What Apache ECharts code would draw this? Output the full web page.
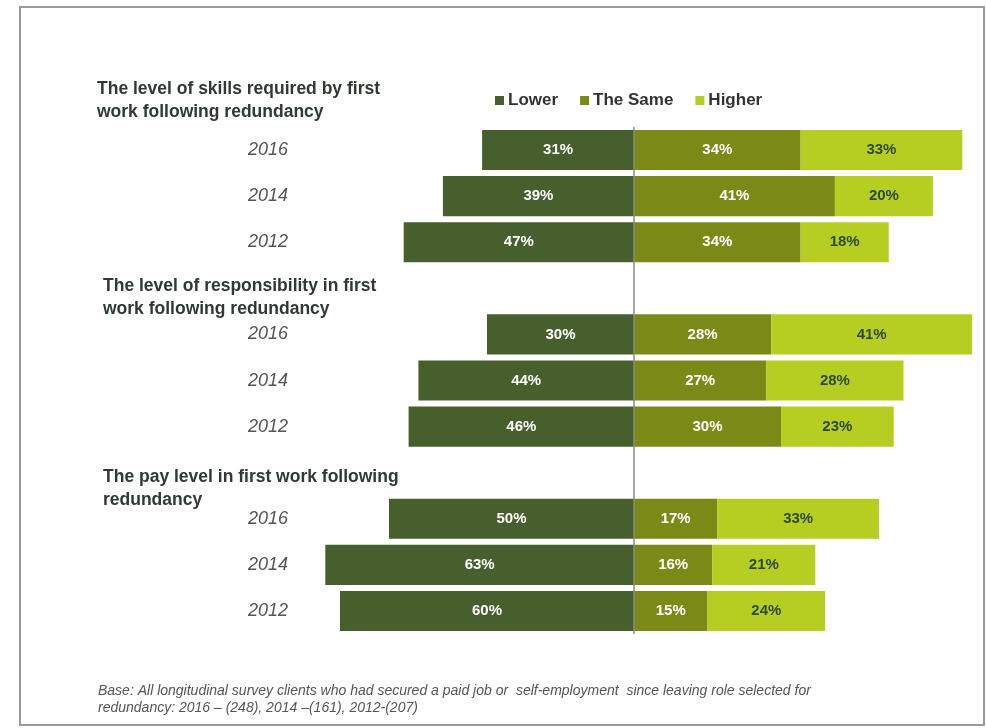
<!DOCTYPE html>
<html>
<head>
<meta charset="utf-8">
<script src="https://cdn.jsdelivr.net/npm/echarts@6/dist/echarts.min.js"></script>
<style>
  html, body { margin: 0; padding: 0; background: #ffffff; }
  #chart { width: 986px; height: 728px; }
</style>
</head>
<body>
<div id="chart"></div>
<script>
// Rows top to bottom; empty strings are spacer rows that carry the section headings.
const rowLabels = ['2016', '2014', '2012', '', '2016', '2014', '2012', '', '2016', '2014', '2012'];
const lowerPct  = [31, 39, 47, null, 30, 44, 46, null, 50, 63, 60];
const samePct   = [34, 41, 34, null, 28, 27, 30, null, 17, 16, 15];
const higherPct = [33, 20, 18, null, 41, 28, 23, null, 33, 21, 24];

const seriesNames = ['Lower', 'The Same', 'Higher'];
const sectionTitles = [
  ['The level of skills required by first', 'work following redundancy'],
  ['The level of responsibility in first', 'work following redundancy'],
  ['The pay level in first work following', 'redundancy']
];
const baseNote = [
  'Base: All longitudinal survey clients who had secured a paid job or  self-employment  since leaving role selected for',
  'redundancy: 2016 \u2013 (248), 2014 \u2013(161), 2012-(207)'
];

const FONT = '"Liberation Sans", Arial, sans-serif';
const colors = ['#475f2c', '#7b8a17', '#b6ce22'];

const chart = echarts.init(document.getElementById('chart'));

const barLabel = (color) => ({
  show: true,
  position: 'inside',
  color: color,
  fontFamily: FONT,
  fontWeight: 'bold',
  fontSize: 15
});

const headingPos = [[97, 78], [103, 275], [103, 466]];
const graphics = [
  {
    type: 'rect', left: 19, top: 6, z: -1,
    shape: { width: 964, height: 718 },
    style: { fill: '#ffffff', stroke: '#9a9a9a', lineWidth: 2 }
  }
];
sectionTitles.forEach((lines, i) => {
  graphics.push({
    type: 'text', left: headingPos[i][0], top: headingPos[i][1],
    style: {
      text: lines.join('\n'), fill: '#2f3a33', font: 'bold 17.5px ' + FONT, lineHeight: 23
    }
  });
});
graphics.push({
  type: 'text', left: 98, top: 683,
  style: { text: baseNote.join('\n'), fill: '#555555', font: 'italic 14px ' + FONT, lineHeight: 17 }
});

chart.setOption({
  backgroundColor: '#ffffff',
  animation: false,
  color: colors,
  graphic: graphics,
  legend: {
    data: seriesNames,
    left: 490, top: 87,
    itemWidth: 9, itemHeight: 9, itemGap: 22,
    icon: 'rect',
    textStyle: { fontFamily: FONT, fontWeight: 'bold', fontSize: 17, color: '#333333', padding: [0, 0, 0, -1] }
  },
  grid: { left: 291, width: 686, top: 127, height: 507 },
  xAxis: {
    type: 'value', min: -70, max: 70, show: false
  },
  yAxis: {
    type: 'category', data: rowLabels, inverse: true,
    axisLine: { show: false }, axisTick: { show: false },
    axisLabel: {
      align: 'center', margin: 23,
      fontFamily: FONT, fontStyle: 'italic', fontSize: 18, color: '#555555'
    }
  },
  series: [
    {
      name: seriesNames[0], type: 'bar', stack: 'all', barCategoryGap: '13%',
      data: lowerPct.map(v => v == null ? null : -v),
      label: Object.assign(barLabel('#ffffff'), { formatter: p => lowerPct[p.dataIndex] + '%' }),
      markLine: {
        silent: true, symbol: 'none', label: { show: false },
        lineStyle: { color: '#8a8a8a', type: 'solid', width: 1.5 },
        data: [{ xAxis: 0 }], z: 10
      }
    },
    {
      name: seriesNames[1], type: 'bar', stack: 'all', barCategoryGap: '13%',
      data: samePct,
      label: Object.assign(barLabel('#ffffff'), { formatter: p => p.value + '%' })
    },
    {
      name: seriesNames[2], type: 'bar', stack: 'all', barCategoryGap: '13%',
      data: higherPct,
      label: Object.assign(barLabel('#2d4a1e'), { formatter: p => p.value + '%' })
    }
  ]
});
</script>
</body>
</html>
